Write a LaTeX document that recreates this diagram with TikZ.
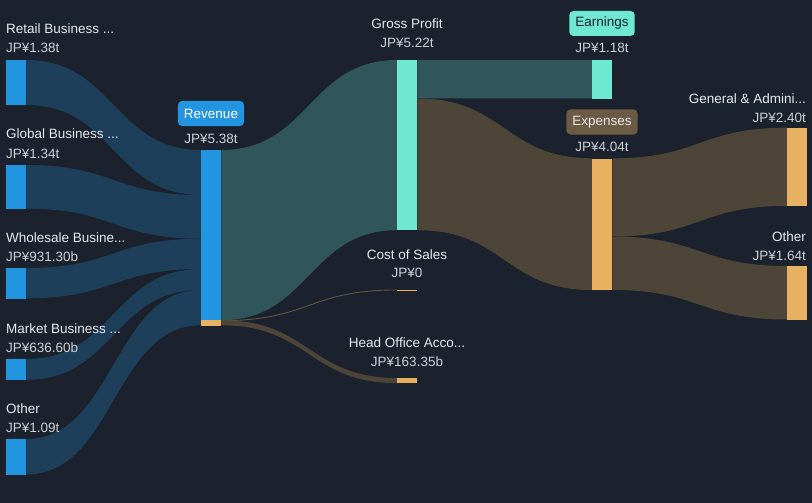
\documentclass[tikz,border=0pt]{standalone}
\usepackage{fontspec}
\setmainfont{Liberation Sans}
\usetikzlibrary{positioning, calc}

\definecolor{bgdark}{HTML}{1B222D}
\definecolor{revblue}{HTML}{2394DF}
\definecolor{revflow}{HTML}{1E3F5A}
\definecolor{gpteal}{HTML}{6EE7D3}
\definecolor{gpflow}{HTML}{30555A}
\definecolor{expgold}{HTML}{E8B161}
\definecolor{expflow}{HTML}{4E4539}
\definecolor{expbadge}{HTML}{6B5A44}
\definecolor{labeltext}{HTML}{E8EAED}
\definecolor{valuetext}{HTML}{CDD1D6}

\pgfdeclarelayer{flows}
\pgfsetlayers{flows,main}

\newcommand{\chartfont}{\fontsize{13.5}{16}\selectfont}

% band between two bars: from node, offset, to node, offset, thickness, colour
\newcommand{\sankeyflow}[6]{%
  \fill[#6] let \p1=($(#1.north east)+(0pt,-#2pt)$), \p2=($(#3.north west)+(0pt,-#4pt)$),
    \n1={(\x1+\x2)/2} in
    (\p1) .. controls (\n1,\y1) and (\n1,\y2) .. (\p2)
    -- (\x2,\y2-#5pt) .. controls (\n1,\y2-#5pt) and (\n1,\y1-#5pt) .. (\x1,\y1-#5pt) -- cycle;}

\tikzset{
  bar/.style={inner sep=0pt, minimum width=20pt, anchor=north west},
  namelabel/.style={text=labeltext, font=\chartfont, inner sep=0pt},
  valuelabel/.style={text=valuetext, font=\chartfont, inner sep=0pt},
  badge/.style={rounded corners=4pt, inner xsep=6pt, inner ysep=0pt, minimum height=25pt, font=\chartfont}
}

\begin{document}
\begin{tikzpicture}[x=1pt, y=-1pt]
	\begin{pgfonlayer}{flows}
		\fill[bgdark] (0,0) rectangle (812,503);
	\end{pgfonlayer}
	\useasboundingbox (0,0) rectangle (812,503);

	\node[bar, fill=revblue, minimum height=45pt] (retail) at (6,60) {};
	\node[bar, fill=revblue, minimum height=43.7pt] (global) at (6,165) {};
	\node[bar, fill=revblue, minimum height=30.3pt] (wholesale) at (6,268) {};
	\node[bar, fill=revblue, minimum height=20.8pt] (market) at (6,359) {};
	\node[bar, fill=revblue, minimum height=35.5pt] (othersrc) at (6,439) {};

	\node[bar, fill=revblue, minimum height=175.3pt] (revenue) at (201,150) {};
	\node[bar, fill=expgold, minimum height=5.1pt] (revtail) at (201,320.2) {};

	\node[bar, fill=gpteal, minimum height=170.2pt] (gross) at (397,60) {};
	\node[bar, fill=expgold, minimum height=1.2pt] (costsales) at (397,289.5) {};
	\node[bar, fill=expgold, minimum height=5.1pt] (headoffice) at (397,378) {};

	\node[bar, fill=gpteal, minimum height=38.5pt] (earnings) at (592,60) {};
	\node[bar, fill=expgold, minimum height=131.7pt] (expenses) at (592,158.3) {};

	\node[bar, fill=expgold, minimum height=78.2pt] (admin) at (787,127.7) {};
	\node[bar, fill=expgold, minimum height=53.5pt] (otherexp) at (787,266) {};

	\begin{pgfonlayer}{flows}
		\sankeyflow{retail}{0}{revenue}{0}{45}{revflow}
		\sankeyflow{global}{0}{revenue}{45}{43.7}{revflow}
		\sankeyflow{wholesale}{0}{revenue}{88.7}{30.3}{revflow}
		\sankeyflow{market}{0}{revenue}{119}{20.8}{revflow}
		\sankeyflow{othersrc}{0}{revenue}{139.8}{35.5}{revflow}
		\sankeyflow{revenue}{0}{gross}{0}{170.2}{gpflow}
		\sankeyflow{revenue}{170.2}{costsales}{0}{0.9}{expflow!85!expgold}
		\sankeyflow{revenue}{170.2}{headoffice}{0}{5.1}{expflow}
		\sankeyflow{gross}{0}{earnings}{0}{38.5}{gpflow}
		\sankeyflow{gross}{38.5}{expenses}{0}{131.7}{expflow}
		\sankeyflow{expenses}{0}{admin}{0}{78.2}{expflow}
		\sankeyflow{expenses}{78.2}{otherexp}{0}{53.5}{expflow}
	\end{pgfonlayer}

	\node[namelabel, anchor=base west] (retailname) at (6,34) {Retail Business ...};
	\node[valuelabel, anchor=base west] (retailvalue) at (6,53) {JP¥1.38t};
	\node[namelabel, anchor=base west] (globalname) at (6,139) {Global Business ...};
	\node[valuelabel, anchor=base west] (globalvalue) at (6,158) {JP¥1.34t};
	\node[namelabel, anchor=base west] (wholesalename) at (6,242) {Wholesale Busine...};
	\node[valuelabel, anchor=base west] (wholesalevalue) at (6,261) {JP¥931.30b};
	\node[namelabel, anchor=base west] (marketname) at (6,333) {Market Business ...};
	\node[valuelabel, anchor=base west] (marketvalue) at (6,352) {JP¥636.60b};
	\node[namelabel, anchor=base west] (othersrcname) at (6,413) {Other};
	\node[valuelabel, anchor=base west] (othersrcvalue) at (6,432) {JP¥1.09t};

	\node[badge, fill=revblue, text=white] (revenuename) at (211,113.5) {Revenue};
	\node[valuelabel, anchor=base] (revenuevalue) at (211,143) {JP¥5.38t};

	\node[namelabel, anchor=base] (grossname) at (407,29) {Gross Profit};
	\node[valuelabel, anchor=base] (grossvalue) at (407,48) {JP¥5.22t};
	\node[namelabel, anchor=base] (costsalesname) at (407,259) {Cost of Sales};
	\node[valuelabel, anchor=base] (costsalesvalue) at (407,277) {JP¥0};
	\node[namelabel, anchor=base] (headofficename) at (407,347) {Head Office Acco...};
	\node[valuelabel, anchor=base] (headofficevalue) at (407,366) {JP¥163.35b};

	\node[badge, fill=gpteal, text=bgdark] (earningsname) at (602,23.5) {Earnings};
	\node[valuelabel, anchor=base] (earningsvalue) at (602,53) {JP¥1.18t};
	\node[badge, fill=expbadge, text=labeltext] (expensesname) at (602,122) {Expenses};
	\node[valuelabel, anchor=base] (expensesvalue) at (602,151) {JP¥4.04t};

	\node[namelabel, anchor=base east] (adminname) at (806,103) {General \& Admini...};
	\node[valuelabel, anchor=base east] (adminvalue) at (806,122) {JP¥2.40t};
	\node[namelabel, anchor=base east] (otherexpname) at (806,241) {Other};
	\node[valuelabel, anchor=base east] (otherexpvalue) at (806,260) {JP¥1.64t};
\end{tikzpicture}
\end{document}
